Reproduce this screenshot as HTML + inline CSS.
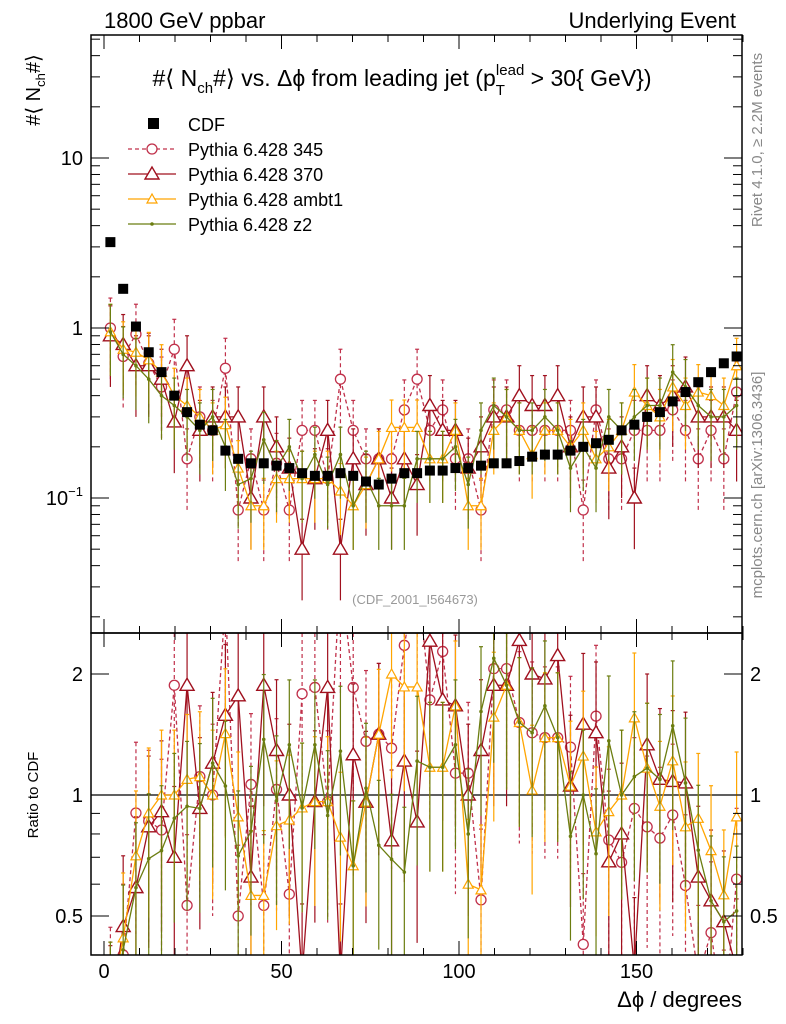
<!DOCTYPE html>
<html><head><meta charset="utf-8"><style>
html,body{margin:0;background:#fff;overflow:hidden;width:786px;height:1024px}
svg{font-family:"Liberation Sans",sans-serif;display:block}
</style></head><body>
<svg id="c" width="786" height="1024" xmlns="http://www.w3.org/2000/svg">
<text x="104" y="28" font-size="22">1800 GeV ppbar</text>
<text x="736" y="28" font-size="22" text-anchor="end">Underlying Event</text>
<text x="402" y="86" font-size="23" text-anchor="middle">#⟨ N<tspan font-size="15" dy="7">ch</tspan><tspan dy="-7">#⟩ vs. Δϕ from leading jet  (p</tspan><tspan font-size="15" dy="9">T</tspan><tspan font-size="15" dy="-20" dx="-9">lead</tspan><tspan dy="11"> &gt; 30{ GeV})</tspan></text>
<text transform="translate(40,90) rotate(-90)" font-size="20" text-anchor="middle">#⟨ N<tspan font-size="13" dy="5">ch</tspan><tspan dy="-5">#⟩</tspan></text>
<text transform="translate(38,795) rotate(-90)" font-size="15" text-anchor="middle">Ratio to CDF</text>
<text x="742" y="1007" font-size="22" text-anchor="end">Δϕ / degrees</text>
<text transform="translate(762,140) rotate(-90)" font-size="15" fill="#888" text-anchor="middle">Rivet 4.1.0, ≥ 2.2M events</text>
<text transform="translate(762,485) rotate(-90)" font-size="15" fill="#888" text-anchor="middle">mcplots.cern.ch [arXiv:1306.3436]</text>
<text x="415" y="604" font-size="13" fill="#999" text-anchor="middle">(CDF_2001_I564673)</text>
</svg>
<script>
const xCenters=[];for(let i=0;i<50;i++)xCenters.push(1.8+3.6*i);
const cdfVals=[3.2,1.7,1.02,0.72,0.55,0.40,0.32,0.27,0.25,0.19,0.17,0.16,0.16,0.155,0.15,0.14,0.135,0.135,0.14,0.135,0.125,0.12,0.13,0.14,0.14,0.145,0.145,0.15,0.15,0.155,0.16,0.16,0.165,0.175,0.18,0.18,0.19,0.20,0.21,0.22,0.25,0.27,0.30,0.32,0.37,0.42,0.48,0.55,0.62,0.68];
const p345=[1.0,0.68,0.92,0.62,0.45,0.75,0.17,0.3,0.25,0.58,0.085,0.17,0.085,0.16,0.085,0.25,0.25,0.13,0.5,0.25,0.17,0.17,0.17,0.33,0.5,0.25,0.33,0.17,0.17,0.085,0.33,0.33,0.25,0.25,0.25,0.25,0.25,0.085,0.33,0.17,0.17,0.25,0.25,0.25,0.33,0.25,0.17,0.25,0.17,0.42];
const p370=[0.9,0.8,0.6,0.6,0.5,0.28,0.6,0.25,0.3,0.3,0.3,0.1,0.3,0.2,0.15,0.05,0.13,0.25,0.05,0.17,0.12,0.17,0.1,0.17,0.12,0.35,0.25,0.25,0.15,0.2,0.3,0.3,0.4,0.35,0.35,0.4,0.2,0.3,0.3,0.15,0.2,0.1,0.4,0.35,0.4,0.45,0.3,0.3,0.3,0.25];
const ambt1=[0.95,0.75,0.72,0.65,0.55,0.4,0.35,0.3,0.25,0.27,0.15,0.09,0.09,0.13,0.13,0.13,0.13,0.13,0.11,0.09,0.12,0.17,0.26,0.26,0.26,0.17,0.17,0.25,0.09,0.09,0.25,0.3,0.25,0.18,0.25,0.25,0.2,0.25,0.17,0.2,0.25,0.42,0.35,0.3,0.45,0.35,0.42,0.4,0.35,0.6];
const z2=[0.95,0.7,0.6,0.5,0.4,0.35,0.3,0.25,0.3,0.2,0.12,0.13,0.22,0.15,0.2,0.13,0.18,0.12,0.18,0.09,0.13,0.09,0.09,0.09,0.17,0.17,0.17,0.2,0.12,0.25,0.35,0.3,0.25,0.25,0.3,0.25,0.15,0.2,0.15,0.3,0.25,0.3,0.35,0.35,0.55,0.45,0.35,0.3,0.3,0.35];
const relErr=[0.5,0.5,0.45,0.45];
const xTicks=[0,50,100,150];
const yTicks=[0.1,1,10];
const rTicks=[0.5,1,2];

const S=document.getElementById('c'),NS='http://www.w3.org/2000/svg';
const L=91,R=742,T=35,MB=633,B=955;
const X=v=>104+(v)*3.55;
const Y=v=>158-(Math.log10(v)-1)*170;
const RY=v=>795-Math.log2(v)*121;
const clamp=(y,a,b)=>Math.max(a,Math.min(b,y));
function el(t,a,p){const e=document.createElementNS(NS,t);for(const k in a)e.setAttribute(k,a[k]);(p||S).appendChild(e);return e;}
const defs=el('defs',{});
const c1=el('clipPath',{id:'cm'},defs);el('rect',{x:L,y:T,width:R-L,height:MB-T},c1);
const c2=el('clipPath',{id:'cr'},defs);el('rect',{x:L,y:MB,width:R-L,height:B-MB},c2);
const gm=el('g',{'clip-path':'url(#cm)'});
const gr=el('g',{'clip-path':'url(#cr)'});
el('line',{x1:L,x2:R,y1:RY(1),y2:RY(1),stroke:'#000','stroke-width':1.3},gr);

const series=[
 {name:'pythia-345',v:p345,col:'#c0304a',dash:'4,3',mk:'circle',e:relErr[0]},
 {name:'pythia-370',v:p370,col:'#a0101e',dash:'',mk:'tri',e:relErr[1]},
 {name:'pythia-ambt1',v:ambt1,col:'#ffa500',dash:'',mk:'tris',e:relErr[2]},
 {name:'pythia-z2',v:z2,col:'#6b7d10',dash:'',mk:'dot',e:relErr[3]}];
function marker(g,mk,x,y,col){
 if(mk==='circle')el('circle',{cx:x,cy:y,r:5,fill:'#fff',stroke:col,'stroke-width':1.3},g);
 else if(mk==='tri')el('polygon',{points:`${x},${y-7} ${x-7},${y+5} ${x+7},${y+5}`,fill:'#fff',stroke:col,'stroke-width':1.4},g);
 else if(mk==='tris')el('polygon',{points:`${x},${y-5} ${x-5},${y+4} ${x+5},${y+4}`,fill:'#fff',stroke:col,'stroke-width':1.2},g);
 else el('circle',{cx:x,cy:y,r:1.8,fill:col},g);
}
series.forEach(s=>{
 [[gm,s.v,Y,T,MB],[gr,s.v.map((v,i)=>v/cdfVals[i]),RY,MB,B]].forEach(([G,vals,fy,lo,hi])=>{
  const g=el('g',{},G);
  
  
  const pts=vals.map((v,i)=>X(xCenters[i])+','+fy(v)).join(' ');
  el('polyline',{points:pts,fill:'none',stroke:s.col,'stroke-width':1.3,'stroke-dasharray':s.dash},g);
  vals.forEach((v,i)=>{
   const x=X(xCenters[i]);
   const yt=clamp(fy(v*(1+s.e)),lo,hi), yb=clamp(fy(Math.max(v*(1-s.e),1e-4)),lo,hi);
   el('line',{x1:x,x2:x,y1:yt,y2:yb,stroke:s.col,'stroke-width':1.2,'stroke-dasharray':s.dash},g);
   el('line',{x1:x-2,x2:x+2,y1:yt,y2:yt,stroke:s.col,'stroke-width':1.2},g);
   marker(g,s.mk,x,fy(v),s.col);
  });
 });
});
const gc=el('g',{},gm);
cdfVals.forEach((v,i)=>{el('rect',{x:X(xCenters[i])-5,y:Y(v)-5,width:10,height:10,fill:'#000'},gc);});

el('rect',{x:L,y:T,width:R-L,height:MB-T,fill:'none',stroke:'#000','stroke-width':1.5});
el('rect',{x:L,y:MB,width:R-L,height:B-MB,fill:'none',stroke:'#000','stroke-width':1.5});
for(let v=0;v<=180;v+=10){const big=v%50===0;const x=X(v);
 [[T,1],[MB,-1],[MB,1],[B,-1]].forEach(([y0,d])=>el('line',{x1:x,x2:x,y1:y0,y2:y0+d*(big?14:7),stroke:'#000','stroke-width':1}));}
xTicks.forEach(v=>{const t=el('text',{x:X(v),y:978,'font-size':20,'text-anchor':'middle'});t.textContent=v;});
for(let e=-2;e<=1;e++)for(let m=1;m<10;m++){const v=m*Math.pow(10,e);const y=Y(v);if(y<T||y>MB)continue;const w=m===1?18:9;
 el('line',{x1:L,x2:L+w,y1:y,y2:y,stroke:'#000'});el('line',{x1:R,x2:R-w,y1:y,y2:y,stroke:'#000'});}
yTicks.forEach(v=>{const t=el('text',{x:83,y:Y(v)+7,'font-size':20,'text-anchor':'end'});
 if(v===0.1){t.textContent='10';const s=el('tspan',{'font-size':13,dy:-9},t);s.textContent='−1';}else t.textContent=v;
 });
[0.4,0.5,0.6,0.7,0.8,0.9,1,2].forEach(v=>{const y=RY(v);const w=(v===0.5||v===1||v===2)?18:9;
 el('line',{x1:L,x2:L+w,y1:y,y2:y,stroke:'#000'});el('line',{x1:R,x2:R-w,y1:y,y2:y,stroke:'#000'});});
rTicks.forEach(v=>{[[83,'end'],[750,'start']].forEach(([x,a])=>{const t=el('text',{x:x,y:RY(v)+7,'font-size':20,'text-anchor':a});t.textContent=v;
 });});
const leg=[['CDF','#000','','sq'],['Pythia 6.428 345','#c0304a','4,3','circle'],['Pythia 6.428 370','#a0101e','','tri'],['Pythia 6.428 ambt1','#ffa500','','tris'],['Pythia 6.428 z2','#6b7d10','','dot']];
leg.forEach((l,i)=>{const y=124+i*25;const g=el('g',{});
 
 if(l[3]==='sq')el('rect',{x:148,y:y-6,width:11,height:11,fill:'#000'},g);
 else{el('line',{x1:128,x2:176,y1:y,y2:y,stroke:l[1],'stroke-width':1.3,'stroke-dasharray':l[2]},g);marker(g,l[3],152,y,l[1]);}
 const t=el('text',{x:188,y:y+7,'font-size':18},g);t.textContent=l[0];});
</script>
</body></html>
